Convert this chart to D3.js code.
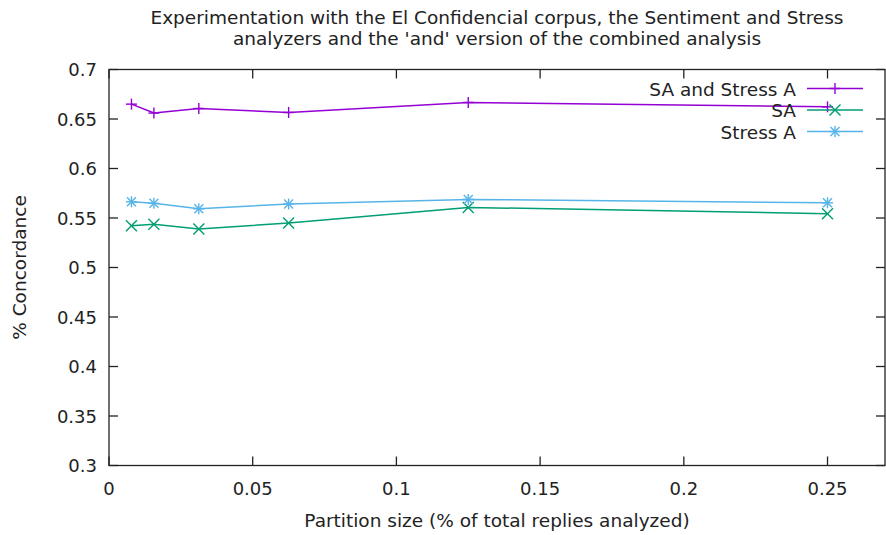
<!DOCTYPE html>
<html><head><meta charset="utf-8">
<script src="https://cdn.jsdelivr.net/npm/d3@7"></script>
<style>body{margin:0;background:#fff}text{font-family:"DejaVu Sans",sans-serif;fill:#222}</style>
</head><body>
<svg id="c" width="886" height="535"></svg>
<script>
const xValues = [0.0078125, 0.015625, 0.03125, 0.0625, 0.125, 0.25];
const seriesNames = ["SA and Stress A", "SA", "Stress A"];
const saAndStress = [0.665, 0.656, 0.6606, 0.6566, 0.6667, 0.6623];
const saValues = [0.5422, 0.5436, 0.5389, 0.5449, 0.5607, 0.5543];
const stressValues = [0.5664, 0.5648, 0.5593, 0.5641, 0.5688, 0.5654];
const xTicks = [0, 0.05, 0.1, 0.15, 0.2, 0.25];
const yTicks = [0.3, 0.35, 0.4, 0.45, 0.5, 0.55, 0.6, 0.65, 0.7];
const colors = ["#9400d3", "#009e73", "#56b4e9"];
const markers = ["plus", "cross", "star"];

const svg = d3.select("#c");
const L = 109, R = 885, T = 69.5, B = 465.5;
const x = d3.scaleLinear().domain([0, 0.27]).range([L, R]);
const y = d3.scaleLinear().domain([0.3, 0.7]).range([B, T]);
const FS = 18.5;

// ticks (inward, mirrored)
const g = svg.append("g").attr("stroke", "#222").attr("stroke-width", 1.3);
xTicks.forEach(t => {
  g.append("line").attr("x1", x(t)).attr("x2", x(t)).attr("y1", B).attr("y2", B - 9);
  g.append("line").attr("x1", x(t)).attr("x2", x(t)).attr("y1", T).attr("y2", T + 9);
});
yTicks.forEach(t => {
  g.append("line").attr("x1", L).attr("x2", L + 9).attr("y1", y(t)).attr("y2", y(t));
  g.append("line").attr("x1", R).attr("x2", R - 9).attr("y1", y(t)).attr("y2", y(t));
});
svg.append("rect").attr("x", L).attr("y", T).attr("width", R - L).attr("height", B - T)
  .attr("fill", "none").attr("stroke", "#222").attr("stroke-width", 1.3);

// tick labels
const fmt = d => String(d);
svg.selectAll(".xl").data(xTicks).enter().append("text")
  .attr("x", d => x(d)).attr("y", 495).attr("text-anchor", "middle")
  .attr("font-size", 18).text(fmt);
svg.selectAll(".yl").data(yTicks).enter().append("text")
  .attr("x", 97).attr("y", d => y(d) + 6.5).attr("text-anchor", "end")
  .attr("font-size", 18).text(fmt);

// axis titles
svg.append("text").attr("x", 497).attr("y", 527).attr("text-anchor", "middle")
  .attr("font-size", FS).text("Partition size (% of total replies analyzed)");
svg.append("text").attr("transform", "translate(25.5," + ((T + B) / 2) + ") rotate(-90)")
  .attr("text-anchor", "middle").attr("font-size", FS).text("% Concordance");

// title
svg.append("text").attr("x", 497).attr("y", 23.5).attr("text-anchor", "middle")
  .attr("font-size", FS).text("Experimentation with the El Confidencial corpus, the Sentiment and Stress");
svg.append("text").attr("x", 497).attr("y", 44.5).attr("text-anchor", "middle")
  .attr("font-size", FS).text("analyzers and the 'and' version of the combined analysis");

function marker(sel, type, cx, cy, color) {
  const s = 5.5;
  const m = sel.append("g").attr("stroke", color).attr("stroke-width", 1.4);
  if (type === "plus" || type === "star") {
    m.append("line").attr("x1", cx - s).attr("x2", cx + s).attr("y1", cy).attr("y2", cy);
    m.append("line").attr("x1", cx).attr("x2", cx).attr("y1", cy - s).attr("y2", cy + s);
  }
  if (type === "cross" || type === "star") {
    const k = type === "star" ? 4.5 : 5.5;
    m.append("line").attr("x1", cx - k).attr("x2", cx + k).attr("y1", cy - k).attr("y2", cy + k);
    m.append("line").attr("x1", cx - k).attr("x2", cx + k).attr("y1", cy + k).attr("y2", cy - k);
  }
}

const allSeries = [saAndStress, saValues, stressValues];
const line = d3.line().x(d => x(d[0])).y(d => y(d[1]));
allSeries.forEach((vals, i) => {
  const pts = xValues.map((xv, j) => [xv, vals[j]]);
  svg.append("path").attr("d", line(pts)).attr("fill", "none")
    .attr("stroke", colors[i]).attr("stroke-width", 1.5);
  pts.forEach(p => marker(svg, markers[i], x(p[0]), y(p[1]), colors[i]));
});

// legend
seriesNames.forEach((n, i) => {
  const ly = 88.5 + i * 21.5;
  svg.append("text").attr("x", 796).attr("y", ly + 7).attr("text-anchor", "end")
    .attr("font-size", FS).text(n);
  svg.append("line").attr("x1", 807).attr("x2", 863).attr("y1", ly).attr("y2", ly)
    .attr("stroke", colors[i]).attr("stroke-width", 1.5);
  marker(svg, markers[i], 835, ly, colors[i]);
});
</script>
</body></html>
